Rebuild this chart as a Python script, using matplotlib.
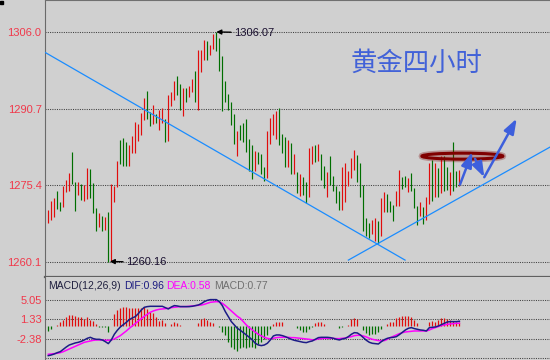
import numpy as np
import matplotlib
matplotlib.use("Agg")
import matplotlib.pyplot as plt
from matplotlib.patches import Ellipse, Rectangle

plt.rcParams['font.family'] = ['Liberation Sans', 'DejaVu Sans']

# price bars (high / low), r = up bar, g = down bar
highs = [1270.53, 1272.34, 1272.88, 1274.35, 1272.14, 1275.28, 1276.55, 1277.96, 1281.97, 1276.15,
         1276.15, 1275.62, 1275.48, 1278.96, 1278.70, 1275.95, 1270.94, 1269.93, 1269.33, 1269.13,
         1270.13, 1275.62, 1275.28, 1280.30, 1284.38, 1284.85, 1283.98, 1283.38, 1285.18, 1288.06,
         1287.59, 1289.80, 1292.88, 1294.22, 1290.07, 1291.41, 1289.60, 1290.54, 1290.94, 1288.73,
         1293.41, 1294.08, 1296.22, 1297.23, 1295.76, 1294.95, 1294.89, 1295.22, 1296.62, 1298.23,
         1302.44, 1302.44, 1304.45, 1304.25, 1303.45, 1305.59, 1306.07, 1304.79, 1301.24, 1296.22,
         1293.61, 1292.01, 1289.73, 1286.19, 1287.46, 1287.79, 1288.60, 1284.65, 1283.38, 1282.24,
         1281.97, 1281.71, 1279.03, 1286.19, 1288.93, 1289.73, 1290.20, 1290.87, 1285.59, 1284.98,
         1284.52, 1283.91, 1281.57, 1278.16, 1277.69, 1277.02, 1276.02, 1282.84, 1283.24, 1283.51,
         1283.65, 1281.71, 1279.36, 1278.03, 1281.17, 1277.36, 1275.35, 1274.35, 1279.03, 1279.83,
         1278.36, 1280.90, 1282.38, 1281.37, 1279.90, 1275.48, 1268.79, 1267.79, 1268.53, 1268.79,
         1268.33, 1272.81, 1274.01, 1273.74, 1272.34, 1271.54, 1274.35, 1278.56, 1277.16, 1277.36,
         1276.82, 1277.96, 1274.82, 1271.34, 1272.00, 1271.13, 1273.01, 1279.83, 1280.50, 1279.83,
         1278.83, 1281.17, 1281.17, 1279.16, 1278.03, 1283.98, 1278.36, 1278.49]
lows = [1267.79, 1268.53, 1269.00, 1270.73, 1270.33, 1271.00, 1274.15, 1274.28, 1275.69, 1270.33,
        1273.48, 1272.54, 1272.34, 1272.61, 1272.81, 1269.93, 1266.32, 1267.12, 1266.25, 1266.45,
        1260.16, 1260.30, 1272.14, 1275.02, 1279.57, 1279.23, 1279.23, 1279.23, 1281.91, 1281.77,
        1284.32, 1285.39, 1288.40, 1288.60, 1287.26, 1287.73, 1287.86, 1286.39, 1287.93, 1283.98,
        1284.18, 1291.21, 1292.41, 1293.41, 1290.54, 1289.20, 1292.07, 1293.08, 1294.08, 1292.07,
        1290.54, 1298.10, 1300.44, 1300.44, 1301.44, 1302.58, 1302.31, 1298.30, 1290.27, 1292.07,
        1290.54, 1287.46, 1283.71, 1281.30, 1284.38, 1283.98, 1282.04, 1278.36, 1276.62, 1278.36,
        1279.63, 1277.69, 1276.29, 1276.89, 1283.58, 1285.39, 1284.72, 1283.38, 1281.84, 1279.16,
        1279.03, 1277.69, 1277.69, 1273.88, 1273.34, 1273.54, 1271.87, 1273.01, 1279.70, 1280.03,
        1280.30, 1276.55, 1274.82, 1273.01, 1275.55, 1274.35, 1271.80, 1270.53, 1270.53, 1272.00,
        1275.28, 1276.82, 1278.56, 1276.02, 1273.01, 1266.19, 1265.18, 1264.85, 1265.65, 1264.31,
        1263.64, 1265.32, 1270.13, 1270.13, 1270.00, 1268.33, 1271.34, 1271.34, 1274.68, 1275.02,
        1274.15, 1274.21, 1270.80, 1267.52, 1269.33, 1267.66, 1268.46, 1271.67, 1272.34, 1273.14,
        1273.14, 1273.81, 1274.35, 1274.48, 1273.48, 1274.35, 1275.15, 1275.35]
bar_dir = list("rrrggrrrgg" "rgrrgggrgr" "grrrgggrrr" "rrrggrgrrg" "rrrggrgrrg"
               "rrrgrrgggg" "gggrgggggr" "gggrrrrggg" "rgrgrggrrg" "rggrggggrr"
               "rrrgggggrr" "grrgggrrgg" "rgggrgrrgr" "grggrggr")

# MACD(12,26,9)
dif = [-5.59, -5.46, -5.27, -5.02, -4.83, -4.38, -3.94, -3.56, -3.37, -3.17,
       -3.05, -2.86, -2.60, -2.29, -2.10, -2.35, -2.48, -2.48, -2.60, -2.92,
       -3.30, -2.60, -1.52, -0.76, -0.13, 0.32, 0.76, 1.27, 1.59, 1.84,
       2.41, 3.11, 3.62, 3.75, 3.81, 3.81, 3.81, 3.81, 3.81, 3.56,
       3.30, 3.68, 3.94, 3.87, 3.75, 3.75, 3.75, 3.75, 3.81, 3.94,
       4.06, 4.32, 4.70, 4.95, 5.08, 5.08, 5.08, 4.70, 3.94, 2.79,
       1.84, 0.89, 0.25, -0.38, -0.76, -1.21, -1.65, -2.10, -2.60, -3.24,
       -3.56, -3.68, -3.56, -3.24, -2.60, -1.84, -1.65, -1.65, -1.78, -1.97,
       -2.22, -2.48, -2.67, -2.79, -2.92, -3.05, -3.11, -2.92, -2.79, -2.48,
       -2.16, -2.10, -2.10, -2.10, -2.16, -2.29, -2.48, -2.60, -2.41, -2.29,
       -1.97, -1.52, -1.21, -1.27, -1.65, -2.16, -2.67, -3.05, -3.24, -3.30,
       -3.37, -2.92, -2.54, -2.29, -2.16, -2.10, -1.97, -1.59, -1.14, -0.70,
       -0.38, -0.25, -0.44, -0.57, -0.70, -0.76, -0.89, -0.25, -0.19, -0.13,
       0.06, 0.32, 0.57, 0.83, 0.89, 0.89, 0.89, 0.96]
dea = [-5.33, -5.27, -5.21, -5.14, -5.02, -4.83, -4.57, -4.32, -4.06, -3.81,
       -3.56, -3.30, -3.05, -2.92, -2.79, -2.67, -2.60, -2.60, -2.60, -2.67,
       -2.67, -2.60, -2.41, -2.10, -1.78, -1.33, -0.89, -0.38, 0.06, 0.51,
       1.02, 1.46, 1.90, 2.29, 2.67, 2.92, 3.11, 3.24, 3.30, 3.37,
       3.43, 3.56, 3.62, 3.68, 3.75, 3.75, 3.75, 3.81, 3.87, 3.94,
       4.00, 4.06, 4.19, 4.38, 4.57, 4.63, 4.70, 4.63, 4.38, 3.94,
       3.43, 2.92, 2.41, 1.90, 1.52, 0.89, 0.25, -0.25, -0.70, -1.14,
       -1.52, -1.84, -2.10, -2.29, -2.41, -2.29, -2.16, -2.10, -2.10, -2.10,
       -2.10, -2.16, -2.16, -2.22, -2.29, -2.35, -2.41, -2.48, -2.60, -2.54,
       -2.41, -2.35, -2.29, -2.29, -2.29, -2.29, -2.35, -2.35, -2.29, -2.22,
       -2.10, -1.97, -1.78, -1.71, -1.71, -1.84, -2.03, -2.29, -2.48, -2.60,
       -2.73, -2.73, -2.73, -2.48, -2.16, -1.90, -1.65, -1.40, -1.21, -1.08,
       -1.02, -0.95, -0.89, -0.89, -0.89, -0.89, -0.89, -0.70, -0.44, -0.25,
       -0.06, 0.13, 0.25, 0.38, 0.44, 0.51, 0.57, 0.58]
macd_hist = [-0.89, -0.57, 0.06, 0.2, 0.76, 1.27, 1.71, 2.22, 2.16, 1.97,
             1.71, 1.71, 1.46, 1.78, 1.14, 1.08, 0.44, -0.06, -0.1, -0.1,
             -1.0, 0.1, 2.35, 3.1, 3.56, 3.68, 3.68, 3.56, 3.56, 3.43,
             3.43, 3.43, 3.75, 3.3, 2.79, 2.48, 1.84, 1.08, 1.14, 0.57,
             0.13, 0.5, 0.89, 0.7, 0.25, 0.13, 0.1, 0.1, 0.1, 0.1,
             0.63, 1.33, 1.52, 1.27, 0.89, 0.57, 0.13, -0.06, -1.0, -1.65,
             -2.92, -3.87, -4.38, -4.63, -4.19, -4.0, -4.06, -3.87, -3.87, -4.06,
             -3.43, -2.92, -2.41, -1.65, -0.57, 0.38, 0.89, 0.89, 0.76, 0.13,
             0.06, 0.06, 0.0, -0.38, -0.7, -1.0, -1.14, -0.51, -0.13, 0.57,
             0.76, 0.76, 0.38, 0.13, 0.06, 0.03, -0.03, -0.38, -0.05, 0.06,
             0.25, 1.33, 1.52, 1.33, 0.13, -0.7, -1.33, -1.65, -1.52, -1.52,
             -1.0, -0.5, 0.13, 0.5, 0.76, 0.76, 1.52, 1.84, 1.97, 1.97,
             1.97, 1.78, 1.27, 0.57, 0.06, 0.03, 0.03, 0.89, 1.02, 0.89,
             1.21, 1.65, 1.52, 1.4, 1.21, 1.02, 0.89, 0.77]

price_ticks = [1260.1, 1275.4, 1290.7, 1306.0]
macd_ticks = [-2.38, 1.33, 5.05]
macd_grid = [-6.09, -2.38, 1.33, 5.05]

# trend lines (bar index, price)
down_line = ([-1.1, 118.9], [1301.99, 1260.44])
up_line = ([100.0, 167.2], [1260.44, 1283.04])

bg = '#d0d0d0'
red = '#e00c0c'
green = '#006e00'
tick_red = '#f0384a'
dots = (0, (1, 1.2))

x = np.arange(len(highs))
bar_cols = [red if d == 'r' else green for d in bar_dir]

fig = plt.figure(figsize=(5.5, 3.6), dpi=100, facecolor=bg)
ax = fig.add_axes([45 / 550, 1 - 277 / 360, 505 / 550, 277 / 360], facecolor=bg)
ax2 = fig.add_axes([45 / 550, 0, 505 / 550, 83 / 360], facecolor=bg)

# ---- price panel
for lv in price_ticks:
    ax.axhline(lv, color='#404040', lw=0.75, ls=dots, zorder=1)
ax.vlines(x, lows, highs, colors=bar_cols, lw=0.85, zorder=3)
ax.plot(*down_line, color='#1a8cff', lw=0.9, zorder=4)
ax.plot(*up_line, color='#1a8cff', lw=0.9, zorder=4)

ax.annotate('1306.07', xy=(56, 1306.07), xytext=(12.5, -0.5), textcoords='offset points',
            ha='left', va='center', fontsize=8, color='#1a1030',
            arrowprops=dict(arrowstyle='-|>', color='black', lw=1.0,
                            shrinkA=0, shrinkB=0, mutation_scale=7))
ax.annotate('1260.16', xy=(20.5, 1260.16), xytext=(11.5, -0.5), textcoords='offset points',
            ha='left', va='center', fontsize=8, color='#1a1030',
            arrowprops=dict(arrowstyle='-|>', color='black', lw=1.0,
                            shrinkA=0, shrinkB=0, mutation_scale=7))

# hand-drawn marks
ax.add_patch(Ellipse((138.0, 1281.23), 27, 1.2, fill=False, edgecolor='#7a0000',
                     lw=4.5, alpha=0.3, zorder=5))
ax.add_patch(Ellipse((138.0, 1281.23), 27, 1.2, fill=False, edgecolor='#800000',
                     lw=2.2, zorder=5))
arrow_blue = '#3d5fdc'
for start, tip in [((137.2, 1275.55), (141.3, 1282.04)),
                   ((142.2, 1280.71), (145.3, 1277.02)),
                   ((145.3, 1277.02), (156.1, 1288.74))]:
    ax.annotate('', xy=tip, xytext=start,
                arrowprops=dict(arrowstyle='-|>,head_length=0.9,head_width=0.32',
                                color=arrow_blue, lw=1.8, shrinkA=0, shrinkB=0,
                                mutation_scale=10), zorder=6)

fig.text(417 / 550, 1 - 63 / 360, '黄金四小时', ha='center', va='center',
         fontsize=19, color='#4262d8', family=['Noto Sans CJK SC', 'DejaVu Sans'],
         fontweight='light')

ax.set_xlim(-1.1, 167.2)
ax.set_ylim(1257.06, 1312.46)
ax.set_xticks([])
ax.set_yticks(price_ticks)
ax.set_yticklabels([f'{v:.1f}' for v in price_ticks])
ax.tick_params(axis='y', length=0, pad=2.5, labelsize=8, labelcolor=tick_red)
ax.spines['right'].set_visible(False)
ax.spines['top'].set_color('#707070')
ax.spines['left'].set_color('#6a6a6a')
ax.spines['bottom'].set_color('#606060')
ax.spines['bottom'].set_linewidth(1.6)

# ---- MACD panel
for lv in macd_grid:
    ax2.axhline(lv, color='#404040', lw=0.75, ls=dots, zorder=1)
hist_cols = [red if v >= 0 else green for v in macd_hist]
ax2.vlines(x, 0, macd_hist, colors=hist_cols, lw=0.9, zorder=2)
ax2.plot(x, dea, color='#ff00ff', lw=1.1, zorder=3)
ax2.plot(x, dif, color='#1c1c86', lw=1.1, zorder=4)
ax2.set_xlim(-1.1, 167.2)
ax2.set_ylim(-6.42, 9.39)
ax2.set_xticks([])
ax2.set_yticks(macd_ticks)
ax2.set_yticklabels([f'{v:.2f}' for v in macd_ticks])
ax2.tick_params(axis='y', length=0, pad=2.5, labelsize=8, labelcolor=tick_red)
for s in ['right', 'top', 'bottom']:
    ax2.spines[s].set_visible(False)
ax2.spines['left'].set_color('#6a6a6a')

label_y = 1 - 286 / 360
for px, txt, col in [(47.7, 'MACD(12,26,9)', '#202040'),
                     (124.3, 'DIF:0.96', '#1a1a80'),
                     (165.7, 'DEA:0.58', '#ff00ff'),
                     (214.3, 'MACD:0.77', '#707070')]:
    fig.text(px / 550, label_y, txt, ha='left', va='center', fontsize=7.5, color=col)

fig.add_artist(Rectangle((0, 1 - 4 / 360), 3 / 550, 3 / 360, transform=fig.transFigure,
                         color='black'))

fig.savefig('out.png', dpi=100, facecolor=bg)
